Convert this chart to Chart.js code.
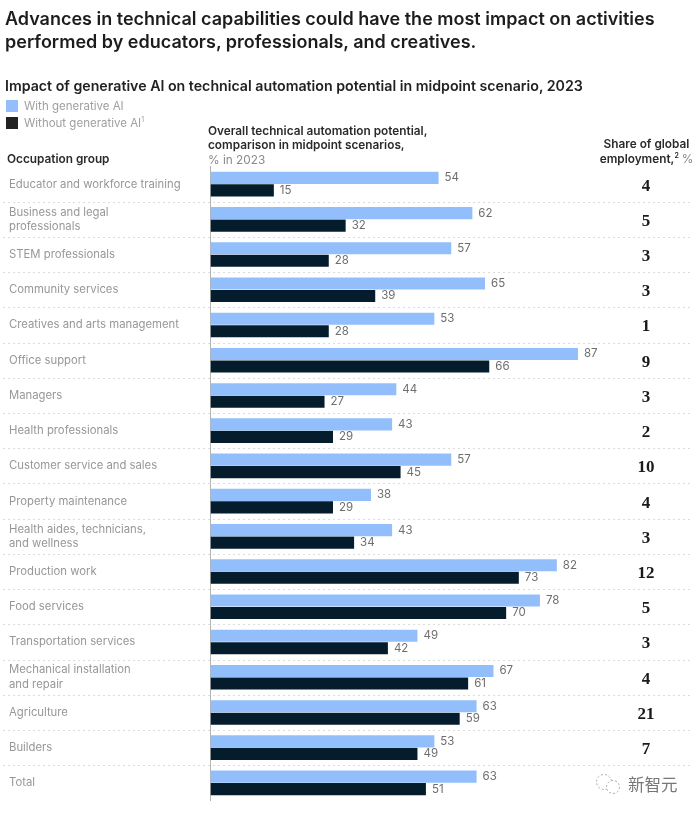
<!DOCTYPE html>
<html>
<head>
<meta charset="utf-8">
<script src="https://cdn.jsdelivr.net/npm/chart.js@4"></script>
<style>
  html, body { margin: 0; padding: 0; background: #fff; }
  body { width: 700px; height: 814px; position: relative; overflow: hidden; font-family: Inter, sans-serif; }
  #wrap { position: absolute; left: 0; top: 0; width: 700px; height: 814px; }
  canvas { display: block; }
  .txt { position: absolute; white-space: nowrap; }
  .head { font-size: 11.8px; font-weight: 600; line-height: 14.5px; color: #2a2a2a; }
  .gray { font-weight: 400; color: #8a8a8a; }
  .swatch { position: absolute; left: 6px; width: 12px; height: 12px; }
  sup { font-size: 7px; line-height: 0; }
</style>
</head>
<body>
<div id="wrap"><canvas id="chart" width="700" height="814"></canvas></div>

<div class="txt" style="left:5px;top:7px;font-size:18px;font-weight:600;line-height:23px;color:#1c1c1c">Advances in technical capabilities could have the most impact on activities<br>performed by educators, professionals, and creatives.</div>
<div class="txt" style="left:5px;top:77px;font-size:14.2px;font-weight:600;color:#222">Impact of generative AI on technical automation potential in midpoint scenario, 2023</div>

<div class="swatch" style="top:100px;background:#92bffb"></div>
<div class="txt gray" style="left:24px;top:99px;font-size:11.5px;color:#a0a0a0">With generative AI</div>
<div class="swatch" style="top:117px;background:#222"></div>
<div class="txt gray" style="left:24px;top:116px;font-size:11.5px;color:#a0a0a0">Without generative AI<sup>1</sup></div>

<div class="txt head" style="left:7px;top:152px">Occupation group</div>
<div class="txt head" style="left:208px;top:123.5px">Overall technical automation potential,<br>comparison in midpoint scenarios,<br><span class="gray">% in 2023</span></div>
<div class="txt head" style="left:597px;width:99px;top:137px;text-align:center">Share of global<br>employment,<sup>2</sup> <span class="gray">%</span></div>

<svg class="txt" style="left:593px;top:773px" width="30" height="24" viewBox="0 0 30 24">
  <circle cx="11" cy="9" r="7.5" fill="none" stroke="#aaa" stroke-width="1" stroke-dasharray="2 2"/>
  <circle cx="20" cy="14" r="6.5" fill="#fff" stroke="#aaa" stroke-width="1" stroke-dasharray="2 2"/>
</svg>
<div class="txt" style="left:628px;top:772px;font-size:16.5px;color:#777;font-family:'Noto Sans CJK SC',sans-serif">新智元</div>

<script>
const categories = [
  "Educator and workforce training",
  ["Business and legal", "professionals"],
  "STEM professionals",
  "Community services",
  "Creatives and arts management",
  "Office support",
  "Managers",
  "Health professionals",
  "Customer service and sales",
  "Property maintenance",
  ["Health aides, technicians,", "and wellness"],
  "Production work",
  "Food services",
  "Transportation services",
  ["Mechanical installation", "and repair"],
  "Agriculture",
  "Builders",
  "Total",
];
const withAI = [54, 62, 57, 65, 53, 87, 44, 43, 57, 38, 43, 82, 78, 49, 67, 63, 53, 63];
const withoutAI = [15, 32, 28, 39, 28, 66, 27, 29, 45, 29, 34, 73, 70, 42, 61, 59, 49, 51];
const employmentShare = [4, 5, 3, 3, 1, 9, 3, 2, 10, 4, 3, 12, 5, 3, 4, 21, 7, ""];

// value labels next to the bars, row separators and the share column
const rowExtras = {
  id: "rowExtras",
  afterDatasetsDraw(chart) {
    const { ctx, scales } = chart;
    const y = scales.y;
    const rowH = y.getPixelForValue(1) - y.getPixelForValue(0);

    ctx.save();
    ctx.strokeStyle = "#dcdcdc";
    ctx.lineWidth = 1;
    ctx.setLineDash([2, 3]);
    for (let i = 0; i < categories.length - 1; i++) {
      const yy = Math.round(y.getPixelForValue(i) + rowH / 2) + 0.5;
      ctx.beginPath();
      ctx.moveTo(3, yy);
      ctx.lineTo(692, yy);
      ctx.stroke();
    }
    ctx.setLineDash([]);

    ctx.font = "11.5px Inter";
    ctx.fillStyle = "#6e6e6e";
    ctx.textAlign = "left";
    ctx.textBaseline = "middle";
    chart.data.datasets.forEach((ds, d) => {
      chart.getDatasetMeta(d).data.forEach((bar, i) => {
        ctx.fillText(ds.data[i], bar.x + 6, bar.y);
      });
    });

    ctx.font = "bold 17px 'Liberation Serif'";
    ctx.fillStyle = "#1a1a1a";
    ctx.textAlign = "center";
    employmentShare.forEach((v, i) => {
      ctx.fillText(v, 646, y.getPixelForValue(i) + 2);
    });
    ctx.restore();
  },
};

new Chart(document.getElementById("chart"), {
  type: "bar",
  data: {
    labels: categories,
    datasets: [
      { label: "With generative AI", data: withAI, backgroundColor: "#92bffb" },
      { label: "Without generative AI", data: withoutAI, backgroundColor: "#051c2c" },
    ],
  },
  options: {
    indexAxis: "y",
    responsive: false,
    animation: false,
    categoryPercentage: 0.71,
    barPercentage: 0.97,
    layout: { padding: { left: 9, right: 8, top: 166.5, bottom: 13.5 } },
    plugins: { legend: { display: false }, tooltip: { enabled: false } },
    scales: {
      x: { display: false, min: 0, max: 114 },
      y: {
        afterFit(scale) { scale.width = 201.5; },
        grid: { display: false },
        border: { display: true, color: "#b4b4b4", width: 1 },
        ticks: {
          crossAlign: "far",
          autoSkip: false,
          color: "#979797",
          font: { family: "Inter", size: 11.3, lineHeight: 1.27 },
        },
      },
    },
  },
  plugins: [rowExtras],
});
</script>
</body>
</html>
